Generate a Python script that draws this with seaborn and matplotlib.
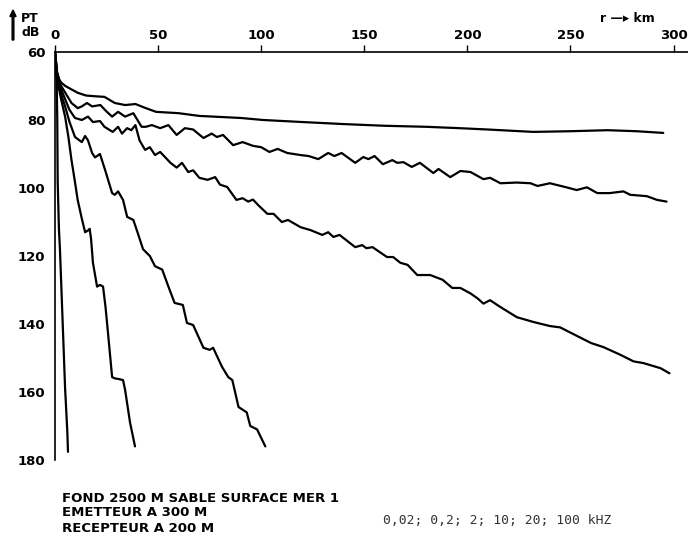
import matplotlib
matplotlib.use("Agg")
import matplotlib.pyplot as plt
import pandas as pd
import seaborn as sns

# Pertes de transmission (dB) en fonction de la distance (km), une courbe par fréquence
frequences = ["0,02", "0,2", "2", "10", "20", "100"]

km_002 = [0, 0.5, 1, 2, 3, 5, 8, 11, 15, 19, 24, 29, 34, 39, 44, 49, 60, 70, 80, 90,
          101, 120, 140, 160, 180, 196, 210, 232, 250, 268, 282, 295]
pt_002 = [60, 63, 66, 68, 69, 70, 71, 72, 72.8, 73, 73.2, 75, 75.6, 75.3, 76.5, 77.6, 78, 78.8, 79.1, 79.4,
          80, 80.6, 81.2, 81.7, 82, 82.4, 82.8, 83.5, 83.3, 83, 83.3, 83.8]

km_02 = [0, 0.5, 1, 2, 3, 5, 8, 11, 13, 15.5, 18, 22, 25, 27.7, 30.6, 34, 38, 42, 44, 47, 51, 55,
         59, 63, 67, 72, 76, 78.5, 81.5, 86.4, 91, 96, 100, 104, 108, 112.6, 119, 123, 127.7,
         132.5, 135.5, 139, 145.6, 149.5, 152, 155, 159, 163.6, 166, 169, 173, 177, 183.5, 186,
         191.7, 196.6, 201.5, 207.8, 211, 216, 224, 230.6, 234, 240, 248, 253, 258, 263, 269,
         275.7, 279, 287, 292, 296.6]
pt_02 = [60, 63, 66, 68.5, 70, 72, 75, 76.5, 76, 75, 76, 75.6, 77.5, 79, 77.6, 79, 78, 82, 82, 81.5, 82.4, 81.5,
         84.4, 82.4, 82.8, 85.3, 84, 85, 84.4, 87.4, 86.5, 87.6, 88, 89.4, 88.5, 89.7, 90.3, 90.6, 91.5,
         89.7, 90.6, 89.7, 92.6, 90.9, 91.5, 90.6, 93, 91.8, 92.6, 92.4, 93.8, 92.6, 95.6, 94.4,
         96.8, 95, 95.3, 97.4, 97, 98.6, 98.4, 98.6, 99.4, 98.6, 99.8, 100.6, 99.8, 101.5, 101.5,
         101, 102, 102.4, 103.5, 104]

km_2 = [0, 0.5, 1, 2, 3, 5, 7, 9.7, 13, 16, 18.4, 21.8, 24, 28, 30.6, 32.5, 35, 37, 39, 41, 43.7,
        46, 48.5, 51, 56, 59, 61.6, 64.6, 67, 70, 74, 77.7, 80, 83.5, 88, 91, 93.7, 96, 98.5, 103,
        106, 110, 113, 119, 124, 129.6, 132.5, 135, 138, 145.6, 149, 151, 154, 161, 164, 167.5,
        171, 175.7, 182, 188, 192.7, 196.6, 201.5, 205, 207.8, 211, 216, 224, 232, 240, 245,
        251.5, 260, 266, 274, 280.6, 285.4, 293.7, 298]
pt_2 = [60, 63, 66.5, 69, 71, 74, 77, 79.4, 80, 79, 80.6, 80.3, 82, 83.5, 82, 84, 82.4, 83, 81.5, 86, 88.8,
        88, 90.3, 89.4, 92.6, 94, 92.6, 95.3, 94.8, 97, 97.6, 96.8, 99, 99.7, 103.5, 103, 104, 103.4, 105, 107.6,
        107.6, 110, 109.4, 111.5, 112.4, 113.8, 113, 114.4, 113.8, 117.4, 116.8, 117.7, 117.4, 120.3, 120.3, 122,
        122.6, 125.6, 125.6, 127, 129.4, 129.4, 131, 132.5, 134, 133, 135, 138, 139.4, 140.6, 141,
        143, 145.6, 146.8, 149, 151, 151.5, 153, 154.5]

km_10 = [0, 0.5, 1, 2, 3, 4.9, 7, 9.7, 13, 14.6, 16, 18, 19.4, 21.8, 24.3, 27.7, 29, 30.6, 33, 35,
         38, 40, 42.7, 46, 48.5, 52, 55, 58, 62, 64, 67, 72, 75, 76.7, 81, 84, 86, 89, 93, 94.7,
         98, 102]
pt_10 = [60, 64, 67, 70, 72.5, 76, 80.5, 85, 86.5, 84.7, 86, 89.7, 91, 90, 94.7, 101.5, 102, 101, 103.5, 108.5,
         109.4, 113, 118, 120, 123, 124, 129, 133.8, 134.4, 139.7, 140.3, 147, 147.6, 147, 152.6, 155.6, 156.5,
         164.4, 166, 170, 171, 176]

km_20 = [0, 0.5, 1, 2, 3, 4.9, 6.5, 8, 9.5, 11, 13, 14.6, 16, 16.8, 17.5, 18.4, 20.4, 21.8, 23.3,
         24.5, 25.7, 27.7, 29, 31, 33, 34, 36.4, 38.8]
pt_20 = [60, 64, 68, 71, 74, 79, 85, 91.8, 97.5, 103.5, 109, 113, 112.5, 112, 115, 122, 129, 128.5, 129,
         135, 142.6, 155.6, 156, 156.2, 156.5, 159.4, 169, 176]

km_100 = [0, 0.3, 0.8, 1.1, 1.3, 1.9, 2.4, 3.5, 4.9, 5.5, 6.0, 6.3]
pt_100 = [60, 64, 68, 80, 98, 112, 118, 136, 159, 166, 172, 177.6]

x_ticks = [0, 50, 100, 150, 200, 250, 300]
y_ticks = [60, 80, 100, 120, 140, 160, 180]

series = [km_002, km_02, km_2, km_10, km_20, km_100]
values = [pt_002, pt_02, pt_2, pt_10, pt_20, pt_100]
df = pd.concat(
    [pd.DataFrame({"r": k, "pt": v, "f": f}) for k, v, f in zip(series, values, frequences)],
    ignore_index=True,
)

sns.set_style("white")
plt.rcParams["font.family"] = ["DejaVu Sans"]
plt.rcParams["text.color"] = "black"

fig = plt.figure(figsize=(6.88, 5.42), dpi=100)
ax = fig.add_axes([55 / 688, 1 - 460 / 542, 1 - 55 / 688, (460 - 52) / 542])

sns.lineplot(data=df, x="r", y="pt", hue="f", units="f", estimator=None, sort=False,
             palette=["black"] * len(frequences), linewidth=1.6, legend=False, ax=ax)

ax.set_xlim(0, 307)
ax.set_ylim(180, 60)
ax.xaxis.tick_top()
ax.set_xticks(x_ticks)
ax.set_yticks(y_ticks)
ax.tick_params(axis="both", direction="out", length=5, width=1, colors="black",
               labelsize=9.5, pad=2)
for lab in ax.get_xticklabels() + ax.get_yticklabels():
    lab.set_fontweight("bold")
ax.set_xlabel("")
ax.set_ylabel("")
for side in ["bottom", "right"]:
    ax.spines[side].set_visible(False)
for side in ["top", "left"]:
    ax.spines[side].set_color("black")
    ax.spines[side].set_linewidth(1.2)

# étiquettes d'axes
fig.text(21 / 688, 1 - 18 / 542, "PT", fontsize=9, fontweight="bold", va="center")
fig.text(21 / 688, 1 - 33 / 542, "dB", fontsize=9, fontweight="bold", va="center")
fig.patches.append(matplotlib.patches.FancyArrow(
    13 / 688, 1 - 40 / 542, 0, 30 / 542, width=0.0025, head_width=0.009, head_length=0.012,
    length_includes_head=True, color="black", transform=fig.transFigure, figure=fig))
fig.text(600 / 688, 1 - 19 / 542, "r \u2014\u25b8 km", fontsize=9, fontweight="bold", va="center")

# légende du bas
fig.text(62 / 688, 1 - 499 / 542, "FOND 2500 M SABLE SURFACE MER 1", fontsize=9.5,
         fontweight="bold", va="center")
fig.text(62 / 688, 1 - 513 / 542, "EMETTEUR A 300 M", fontsize=9.5, fontweight="bold", va="center")
fig.text(62 / 688, 1 - 528 / 542, "RECEPTEUR A 200 M", fontsize=9.5, fontweight="bold", va="center")
fig.text(383 / 688, 1 - 520 / 542, "; ".join(frequences) + " kHZ", fontsize=9.4,
         family="DejaVu Sans Mono", color="#333333", va="center")

fig.savefig("out.png", dpi=100)
